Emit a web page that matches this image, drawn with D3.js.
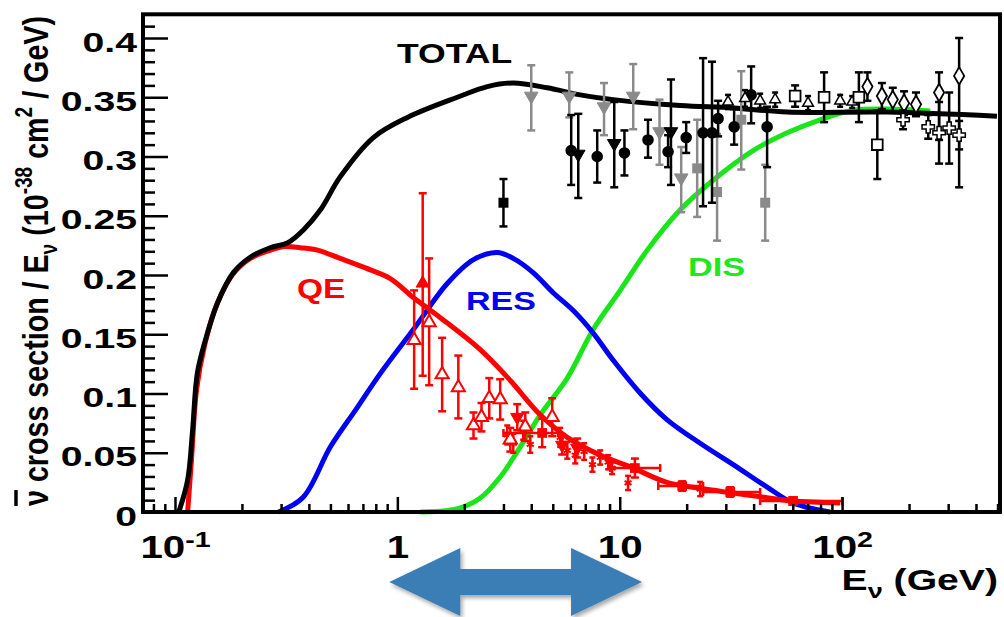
<!DOCTYPE html>
<html>
<head>
<meta charset="utf-8">
<script src="https://cdn.jsdelivr.net/npm/d3@7"></script>
<style>
  body { margin: 0; background: #fff; }
  text { font-family: "Liberation Sans", Arial, Helvetica, sans-serif; font-weight: bold; }
</style>
</head>
<body>
<svg id="chart" width="1004" height="617"></svg>
<script>
// ---- curves: [E (GeV), sigma/E (1e-38 cm2/GeV)] ----
const totalCurve = [[0.104,0],[0.114,0.027],[0.120,0.069],[0.126,0.117],[0.137,0.145],[0.155,0.176],
  [0.183,0.202],[0.218,0.215],[0.268,0.223],[0.320,0.227],[0.378,0.238],[0.451,0.255],[0.554,0.283],
  [0.78,0.316],[1.11,0.333],[1.86,0.350],[2.54,0.359],[3.32,0.362],[4.72,0.358],
  [6.64,0.352],[9.35,0.348],[18.7,0.343],[32.4,0.341],[56.6,0.3375],[159,0.3375],[497,0.334]];
const qeCurve = [[0.114,0],[0.1186,0.044],[0.125,0.103],[0.136,0.141],[0.154,0.175],[0.181,0.200],
  [0.218,0.214],[0.269,0.221],[0.314,0.224],[0.366,0.223],[0.437,0.221],[0.554,0.214],[0.718,0.206],
  [0.93,0.197],[1.18,0.181],[1.56,0.164],[2.36,0.137],[3.22,0.111],[4.39,0.082],[5.81,0.063],
  [8.17,0.048],[11.5,0.037],[16.3,0.025],[23,0.020],[32.4,0.016],[46,0.012],[60.2,0.0093],[98,0.0076]];
const resCurve = [[0.292,0],[0.378,0.0127],[0.5,0.055],[0.648,0.086],[0.839,0.117],[1.18,0.154],
  [1.68,0.193],[2.2,0.213],[2.81,0.219],[3.32,0.214],[4.08,0.202],[5.02,0.185],[6.18,0.170],
  [7.6,0.151],[9.35,0.128],[12.4,0.100],[16.3,0.078],[23,0.058],[32.4,0.040],[46,0.021],[60.2,0.0076],[88.3,0]];
const disCurve = [[1.27,0],[1.64,0.001],[1.92,0.0034],[2.36,0.0118],[2.9,0.0295],[3.57,0.055],
  [4.39,0.082],[5.81,0.113],[7.6,0.154],[10.05,0.187],[13.3,0.221],[18.7,0.255],[26.3,0.280],
  [39.8,0.305],[56.6,0.320],[79.6,0.331],[112,0.339],[159,0.340],[249,0.3384]];

// ---- data points: [E, sigma, errLow, errHigh] ----
const redOpenTri = [[1.19,0.145,0.041,0.042],[1.39,0.160,0.053,0.054],[1.59,0.116,0.031,0.031],
  [1.88,0.105,0.026,0.027],[2.20,0.073,0.011,0.011],[2.39,0.080,0.012,0.012],[2.59,0.096,0.017,0.017],
  [2.90,0.095,0.017,0.017],[3.22,0.061,0.010,0.010],[3.76,0.072,0.012,0.012],[4.97,0.080,0.016,0.016]];
const redUpTri = [[1.30,0.193,0.078,0.076]];
const redDownTri = [[3.46,0.080,0.011,0.011],[5.51,0.0565,0.008,0.008],[6.44,0.054,0.008,0.008]];
// [E, sigma, errY, Elow, Ehigh]
const redSquare = [[4.48,0.0667,0.012,3.0,5.29],[11.7,0.0371,0.008,9.06,15.2],[19.1,0.0219,0.004,14.9,23.7],
  [31.4,0.0169,0.004,23.7,42.8],[60.2,0.0093,0.003,42.8,100]];
const redStar = [[3.12,0.065,0.008,0.008],[3.32,0.058,0.008,0.008],[3.68,0.069,0.008,0.008],
  [3.96,0.057,0.007,0.007],[5.40,0.063,0.008,0.008],[5.81,0.052,0.007,0.007],[6.31,0.048,0.007,0.007],
  [6.92,0.051,0.007,0.007],[7.54,0.040,0.006,0.006],[8.17,0.046,0.006,0.006],[8.87,0.042,0.006,0.006],
  [9.24,0.037,0.005,0.005],[10.9,0.0245,0.006,0.006],[23.0,0.0194,0.006,0.006]];
const grayDownTri = [[4.0,0.351,0.029,0.026],[5.93,0.351,0.018,0.020],[8.5,0.342,0.024,0.020],
  [11.5,0.351,0.028,0.027],[15.1,0.321,0.028,0.027],[18.9,0.282,0.029,0.026]];
const graySquare = [[22.3,0.290,0.041,0.041],[27.4,0.270,0.041,0.049],[35.2,0.331,0.042,0.041],[45.1,0.261,0.032,0.032]];
const blackCircle = [[6.05,0.305,0.029,0.030],[7.92,0.300,0.022,0.022],[10.5,0.303,0.019,0.019],
  [13.4,0.314,0.015,0.017],[16.5,0.304,0.013,0.014],[19.9,0.316,0.013,0.013],[23.7,0.320,0.062,0.063],
  [26.0,0.320,0.059,0.060],[27.7,0.332,0.015,0.015],[32.7,0.325,0.015,0.015],[39.0,0.352,0.024,0.024],
  [46.0,0.325,0.034,0.017]];
const blackDownTri = [[6.51,0.302,0.037,0.034],[9.45,0.311,0.037,0.035],[17.0,0.321,0.045,0.044]];
const blackSquare = [[3.0,0.261,0.020,0.020]];
const openSquare = [[61.5,0.351,0.009,0.009],[83,0.350,0.021,0.021],[119,0.350,0.021,0.021],[144,0.310,0.029,0.029]];
const openDiamond = [[130,0.359,0.012,0.012],[151,0.351,0.011,0.011],[169,0.348,0.010,0.010],
  [190,0.345,0.010,0.010],[215,0.344,0.010,0.010],[273,0.354,0.040,0.017],[336,0.368,0.094,0.032]];
const openCross = [[188,0.331,0.008,0.008],[244,0.325,0.010,0.010],[273,0.320,0.026,0.026],
  [303,0.324,0.030,0.030],[336,0.318,0.012,0.012]];
const openTri = [[30.7,0.346,0.006,0.006],[36.6,0.349,0.007,0.007],[42.8,0.347,0.006,0.006],
  [50,0.348,0.006,0.006],[70.3,0.345,0.006,0.006],[98,0.347,0.005,0.005],[111,0.346,0.005,0.005]];

const yTicks = [0, 0.05, 0.1, 0.15, 0.2, 0.25, 0.3, 0.35, 0.4];
const xTicks = [0.1, 1, 10, 100];
const arrowSpan = [0.92, 12.6]; // GeV range marked by the arrow

const svg = d3.select("#chart");

const x = d3.scaleLog().domain([0.0718, 513]).range([143, 1000]);
const y = d3.scaleLinear().domain([0, 0.42]).range([512, 14.3]);

// ---- curves (green under, black on top) ----
const line = d3.line().x(d => x(d[0])).y(d => y(d[1])).curve(d3.curveCatmullRom.alpha(0.5));
const curves = [[disCurve, "#19e619"], [resCurve, "#0000f2"], [qeCurve, "#ff0000"], [totalCurve, "#000"]];
curves.forEach(([data, color]) => {
  svg.append("path").datum(data).attr("d", line)
    .attr("fill", "none").attr("stroke", color).attr("stroke-width", 5)
    .attr("stroke-linejoin", "round").attr("stroke-linecap", "butt");
});

// ---- points ----
function errorBars(g, data, color, sw, cap) {
  g.selectAll(null).data(data).join("line")
    .attr("x1", d => x(d[0])).attr("x2", d => x(d[0]))
    .attr("y1", d => y(d[1] - d[2])).attr("y2", d => y(d[1] + d[3]))
    .attr("stroke", color).attr("stroke-width", sw);
  [d => d[1] - d[2], d => d[1] + d[3]].forEach(f => {
    g.selectAll(null).data(data).join("line")
      .attr("x1", d => x(d[0]) - cap).attr("x2", d => x(d[0]) + cap)
      .attr("y1", d => y(f(d))).attr("y2", d => y(f(d)))
      .attr("stroke", color).attr("stroke-width", sw);
  });
}
function markers(g, data, type, size, fill, stroke, sw, rot) {
  g.selectAll(null).data(data).join("path")
    .attr("transform", d => `translate(${x(d[0])},${y(d[1])})` + (rot ? " rotate(180)" : ""))
    .attr("d", d3.symbol(type, size))
    .attr("fill", fill).attr("stroke", stroke).attr("stroke-width", sw);
}
function series(data, opt) {
  const g = svg.append("g");
  errorBars(g, data, opt.bar, opt.bw || 2.5, opt.cap || 4);
  markers(g, data, opt.type, opt.size, opt.fill, opt.stroke, opt.sw || 0, opt.rot);
}

const RED = "#ff0000", GRAY = "#8a8a8a";

// red low-energy data
const sq = svg.append("g");
sq.selectAll(null).data(redSquare).join("line")
  .attr("x1", d => x(d[3])).attr("x2", d => x(d[4]))
  .attr("y1", d => y(d[1])).attr("y2", d => y(d[1]))
  .attr("stroke", RED).attr("stroke-width", 2.5);
[3, 4].forEach(i => {
  sq.selectAll(null).data(redSquare).join("line")
    .attr("x1", d => x(d[i])).attr("x2", d => x(d[i]))
    .attr("y1", d => y(d[1]) - 4).attr("y2", d => y(d[1]) + 4)
    .attr("stroke", RED).attr("stroke-width", 2.5);
});
errorBars(sq, redSquare.map(d => [d[0], d[1], d[2], d[2]]), RED, 2.5, 4);
markers(sq, redSquare, d3.symbolSquare, 95, RED, RED, 0);

series(redStar, {bar: RED, type: d3.symbolAsterisk, size: 45, fill: "none", stroke: RED, sw: 2, cap: 3});
series(redOpenTri, {bar: RED, type: d3.symbolTriangle, size: 75, fill: "#fff", stroke: RED, sw: 2});
series(redUpTri, {bar: RED, type: d3.symbolTriangle, size: 75, fill: RED, stroke: RED, sw: 1});
series(redDownTri, {bar: RED, type: d3.symbolTriangle, size: 75, fill: RED, stroke: RED, sw: 1, rot: true});

// gray / black high-energy data
series(grayDownTri, {bar: GRAY, type: d3.symbolTriangle, size: 80, fill: GRAY, stroke: GRAY, sw: 1, rot: true});
series(graySquare, {bar: GRAY, type: d3.symbolSquare, size: 100, fill: GRAY, stroke: GRAY, sw: 0});
series(blackSquare, {bar: "#000", type: d3.symbolSquare, size: 100, fill: "#000", stroke: "#000", sw: 0});
series(blackDownTri, {bar: "#000", type: d3.symbolTriangle, size: 80, fill: "#000", stroke: "#000", sw: 1, rot: true});
series(blackCircle, {bar: "#000", type: d3.symbolCircle, size: 105, fill: "#000", stroke: "#000", sw: 0});
series(openTri, {bar: "#000", type: d3.symbolTriangle, size: 50, fill: "#fff", stroke: "#000", sw: 1.5, cap: 3});
series(openSquare, {bar: "#000", type: d3.symbolSquare, size: 115, fill: "#fff", stroke: "#000", sw: 1.8});
series(openDiamond, {bar: "#000", type: d3.symbolDiamond, size: 90, fill: "#fff", stroke: "#000", sw: 1.8});
series(openCross, {bar: "#000", type: d3.symbolCross, size: 85, fill: "#fff", stroke: "#000", sw: 1.5});

// ---- axes ----
const yMinor = d3.range(0, 0.415, 0.01).filter(v => Math.abs(v / 0.05 - Math.round(v / 0.05)) > 1e-6);
svg.append("g").attr("transform", "translate(143,0)")
  .call(d3.axisLeft(y).tickValues(yMinor).tickSize(-12).tickFormat(""))
  .call(g => g.select(".domain").remove())
  .call(g => g.selectAll("line").attr("stroke-width", 2.5));
svg.append("g").attr("transform", "translate(143,0)")
  .call(d3.axisLeft(y).tickValues(yTicks).tickSize(-25).tickPadding(0).tickFormat(d => d === 0 ? "0" : d3.format(".2~f")(d)))
  .call(g => g.select(".domain").remove())
  .call(g => g.selectAll("line").attr("stroke-width", 2.5))
  .call(g => g.selectAll("text").attr("font-size", 28).attr("fill", "#000")
    .attr("x", null).attr("dy", null)
    .attr("transform", "translate(-6,13) scale(1.4,1)"));

const xMinor = [];
for (let e = -2; e <= 2; e++) for (let m = 2; m <= 9; m++) {
  const v = m * Math.pow(10, e);
  if (v > 0.0718 && v < 513) xMinor.push(v);
}
svg.append("g").attr("transform", "translate(0,512)")
  .call(d3.axisBottom(x).tickValues(xMinor).tickSize(-8).tickFormat(""))
  .call(g => g.select(".domain").remove())
  .call(g => g.selectAll("line").attr("stroke-width", 2.5));
svg.append("g").attr("transform", "translate(0,512)")
  .call(d3.axisBottom(x).tickValues(xTicks).tickSize(-15).tickFormat(""))
  .call(g => g.select(".domain").remove())
  .call(g => g.selectAll("line").attr("stroke-width", 2.5))
  .call(g => g.selectAll(".tick").each(function(v) {
    const t = d3.select(this).append("text")
      .attr("text-anchor", "middle").attr("font-size", 31).attr("fill", "#000")
      .attr("transform", "translate(0,46) scale(1.3,1)");
    const p = Math.round(Math.log10(v));
    if (p === 0) t.text("1");
    else if (p === 1) t.text("10");
    else {
      t.append("tspan").text("10");
      t.append("tspan").attr("font-size", 22).attr("dy", -11).text(String(p));
    }
  }));

// frame
svg.append("rect").attr("x", x.range()[0]).attr("y", y.range()[1])
  .attr("width", x.range()[1] - x.range()[0]).attr("height", y.range()[0] - y.range()[1])
  .attr("fill", "none").attr("stroke", "#000").attr("stroke-width", 4);

// ---- labels ----
function label(txt, px, py, size, sx, color) {
  svg.append("text").attr("transform", `translate(${px},${py}) scale(${sx},1)`)
    .attr("font-size", size).attr("fill", color).text(txt);
}
label("TOTAL", 397, 63, 28, 1.27, "#000");
label("QE", 297, 298, 27, 1.24, RED);
label("RES", 466, 310, 25, 1.36, "#0000f2");
label("DIS", 688, 276, 26, 1.32, "#22e622");

const xt = svg.append("text").attr("transform", "translate(998,590) scale(1.35,1)")
  .attr("text-anchor", "end").attr("font-size", 29).attr("fill", "#000");
xt.append("tspan").text("E");
xt.append("tspan").attr("font-size", 20).attr("dy", 8).text("ν");
xt.append("tspan").attr("dy", -8).text(" (GeV)");

// rotated y title, stretched horizontally like the rest of the picture
const yt = svg.append("text").attr("transform", "translate(48,261) scale(1.45,1) rotate(-90)")
  .attr("text-anchor", "middle").attr("font-size", 24).attr("fill", "#000")
  .attr("textLength", 490).attr("lengthAdjust", "spacingAndGlyphs");
yt.append("tspan").attr("text-decoration", "overline").text("ν");
yt.append("tspan").text(" cross section / E");
yt.append("tspan").attr("font-size", 16).attr("dy", 6).text("ν");
yt.append("tspan").attr("dy", -6).text(" (10");
yt.append("tspan").attr("font-size", 16).attr("dy", -11).text("-38");
yt.append("tspan").attr("dy", 11).text(" cm");
yt.append("tspan").attr("font-size", 16).attr("dy", -11).text("2");
yt.append("tspan").attr("dy", 11).text(" / GeV)");

// ---- arrow below the axis ----
const defs = svg.append("defs");
defs.append("filter").attr("id", "shadow").attr("x", "-10%").attr("y", "-20%").attr("width", "130%").attr("height", "150%")
  .append("feDropShadow").attr("dx", 2).attr("dy", 3).attr("stdDeviation", 2)
  .attr("flood-color", "#000").attr("flood-opacity", 0.35);
const ax0 = x(arrowSpan[0]), ax1 = x(arrowSpan[1]);
const ay = 582, headL = 71, headH = 34, shaftH = 13;
const arrowPath = d3.path();
arrowPath.moveTo(ax0, ay);
arrowPath.lineTo(ax0 + headL, ay - headH);
arrowPath.lineTo(ax0 + headL, ay - shaftH);
arrowPath.lineTo(ax1 - headL, ay - shaftH);
arrowPath.lineTo(ax1 - headL, ay - headH);
arrowPath.lineTo(ax1, ay);
arrowPath.lineTo(ax1 - headL, ay + headH);
arrowPath.lineTo(ax1 - headL, ay + shaftH);
arrowPath.lineTo(ax0 + headL, ay + shaftH);
arrowPath.lineTo(ax0 + headL, ay + headH);
arrowPath.closePath();
svg.append("path").attr("d", arrowPath.toString()).attr("fill", "#3b7db5").attr("filter", "url(#shadow)");
</script>
</body>
</html>
